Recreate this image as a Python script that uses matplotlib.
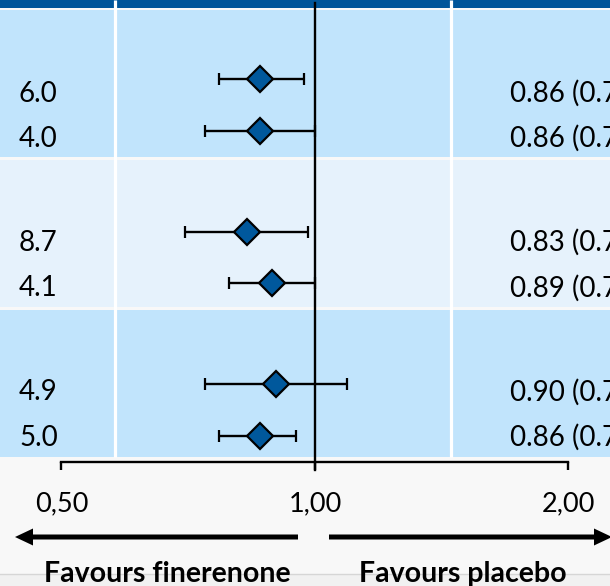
import matplotlib.pyplot as plt
import numpy as np

plt.rcParams['font.family'] = ['Lato', 'DejaVu Sans']

# data
rates = [6.0, 4.0, 8.7, 4.1, 4.9, 5.0]
hr = [0.86, 0.86, 0.83, 0.89, 0.90, 0.86]
hr_lo = [0.77, 0.74, 0.70, 0.79, 0.74, 0.77]
hr_hi = [0.97, 1.00, 0.98, 1.00, 1.09, 0.95]
xticks = [0.5, 1.0, 2.0]
xticklabels = ['0,50', '1,00', '2,00']
left_label = 'Favours finerenone'
right_label = 'Favours placebo'

dark = '#00559A'
band1 = '#C1E4FC'
band2 = '#E6F2FC'

W, H = 610, 586
fig = plt.figure(figsize=(W / 100, H / 100), dpi=100)
fig.patch.set_facecolor('#F8F8F8')

# background axes in pixel units
bg = fig.add_axes([0, 0, 1, 1])
bg.set_xlim(0, W)
bg.set_ylim(H, 0)
bg.axis('off')

bg.axhspan(0, 7.7, color=dark, lw=0)
band_tops = [10.3, 160, 310]
band_h = 147
for i, t in enumerate(band_tops):
    bg.axhspan(t, t + band_h, color=band2 if i == 1 else band1, lw=0)
for x in [115, 451]:
    bg.plot([x, x], [0, 457], color='white', lw=2.3, solid_capstyle='butt')
bg.plot([0, W], [574, 574], color='#D6D6D6', lw=1)
bg.axhspan(574.5, H, color='#F1F1F1', lw=0)

# row positions (two rows per band)
row_y, text_y = [], []
for g in range(3):
    for k in range(2):
        row_y.append(79 + 152.5 * g + 51.5 * k)
        text_y.append(101.5 + 149.5 * g + 45.5 * k)

for ty, r, h, lo, hi in zip(text_y, rates, hr, hr_lo, hr_hi):
    bg.text(19, ty, '%.1f' % r, fontsize=20, va='baseline', ha='left')
    bg.text(510, ty, '%.2f (%.2f–%.2f)' % (h, lo, hi), fontsize=20,
            va='baseline', ha='left')

# arrows
bg.arrow(298, 537, -283, 0, width=5, head_width=17, head_length=18,
         length_includes_head=True, color='black', lw=0)
bg.arrow(329, 537, 283, 0, width=5, head_width=17, head_length=18,
         length_includes_head=True, color='black', lw=0)
bg.text(167, 582, left_label, fontsize=20.5, fontweight='bold', ha='center', va='baseline')
bg.text(463, 582, right_label, fontsize=20.5, fontweight='bold', ha='center', va='baseline')

# forest axes, log scale
ax = fig.add_axes([0, 0, 1, 1])
ax.patch.set_alpha(0)
ax.set_xscale('log')
x0 = 2 ** ((0 - 315) / 253.5)
x1 = 2 ** ((W - 315) / 253.5)
ax.set_xlim(x0, x1)
ax.set_ylim(H, 0)

ax.plot([1, 1], [3, 470], color='black', lw=1.7, zorder=2)
err = [np.array(hr) - np.array(hr_lo), np.array(hr_hi) - np.array(hr)]
ax.errorbar(hr, row_y, xerr=err, fmt='D', color='black', ecolor='black',
            elinewidth=1.7, capsize=4.2, capthick=1.7, markersize=13.5,
            markerfacecolor='#00589C', markeredgecolor='black',
            markeredgewidth=1.6, zorder=3)

for s in ['top', 'left', 'right']:
    ax.spines[s].set_visible(False)
ax.spines['bottom'].set_position(('data', 462))
ax.spines['bottom'].set_bounds(0.5, 2.0)
ax.spines['bottom'].set_linewidth(1.7)
ax.set_yticks([])
ax.set_xticks(xticks)
ax.set_xticklabels(xticklabels, fontsize=19.5)
ax.xaxis.set_minor_locator(plt.NullLocator())
ax.tick_params(axis='x', direction='out', length=6, width=1.7, pad=15)

plt.savefig('out.png', dpi=100)
